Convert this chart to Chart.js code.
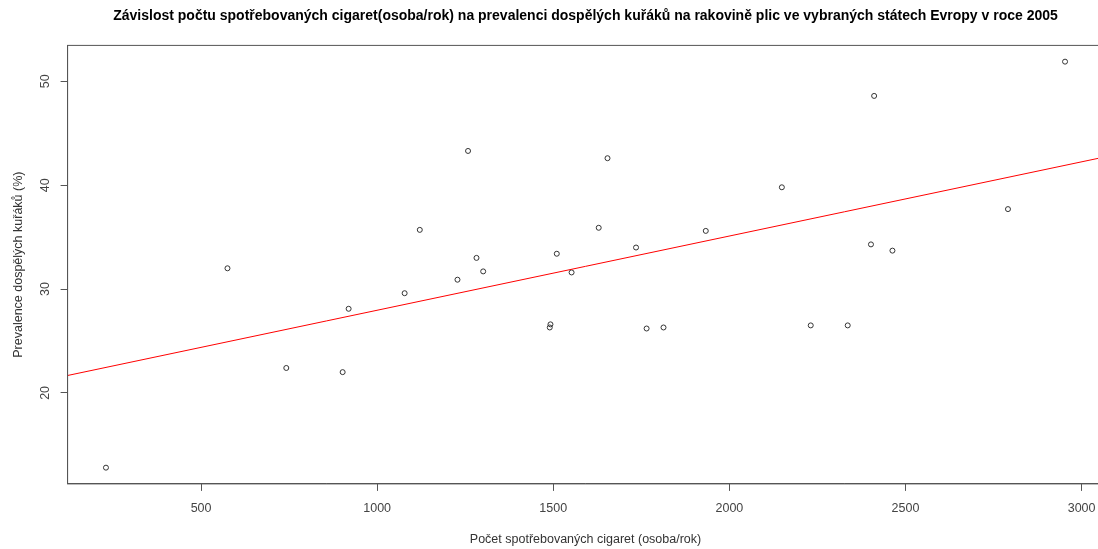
<!DOCTYPE html>
<html>
<head>
<meta charset="utf-8">
<script src="https://cdn.jsdelivr.net/npm/chart.js@4"></script>
<style>
  html, body { margin: 0; padding: 0; background: #fff; overflow: hidden; }
</style>
</head>
<body>
<canvas id="smokeChart" width="1110" height="549"></canvas>
<script>
const chartTitle = 'Závislost počtu spotřebovaných cigaret(osoba/rok) na prevalenci dospělých kuřáků na rakovině plic ve vybraných státech Evropy v roce 2005';
const xTitle = 'Počet spotřebovaných cigaret (osoba/rok)';
const yTitle = 'Prevalence dospělých kuřáků (%)';

const cigarettes = [230, 575, 742, 902, 919, 1078, 1121, 1228, 1258, 1282, 1301, 1492, 1490, 1510, 1552,
                    1629, 1654, 1735, 1765, 1813, 1933, 2149, 2231, 2336, 2402, 2411, 2463, 2791, 2953];
const prevalence = [12.8, 32.0, 22.4, 22.0, 28.1, 29.6, 35.7, 30.9, 43.3, 33.0, 31.7, 26.6, 26.3, 33.4, 31.6,
                    35.9, 42.6, 34.0, 26.2, 26.3, 35.6, 39.8, 26.5, 26.5, 34.3, 48.6, 33.7, 37.7, 51.9];

const xTicks = [500, 1000, 1500, 2000, 2500, 3000];
const yTicks = [20, 30, 40, 50];

const fontFamily = '"Liberation Sans", Arial, sans-serif';

// axis limits like R (range + 4%)
function rLimits(arr) {
    const lo = Math.min(...arr), hi = Math.max(...arr);
    const pad = (hi - lo) * 0.04;
    return [lo - pad, hi + pad];
}
const [xMin, xMax] = rLimits(cigarettes);
const [yMin, yMax] = rLimits(prevalence);

// abline(lm(prevalence ~ cigarettes))
const n = cigarettes.length;
const mx = cigarettes.reduce((a, b) => a + b, 0) / n;
const my = prevalence.reduce((a, b) => a + b, 0) / n;
let sxy = 0, sxx = 0;
for (let i = 0; i < n; i++) {
    sxy += (cigarettes[i] - mx) * (prevalence[i] - my);
    sxx += (cigarettes[i] - mx) ** 2;
}
const slope = sxy / sxx;
const intercept = my - slope * mx;

const points = cigarettes.map((c, i) => ({ x: c, y: prevalence[i] }));
const fitLine = [xMin, xMax].map(x => ({ x: x, y: intercept + slope * x }));

const framePlugin = {
    id: 'frame',
    afterDraw(chart) {
        const { ctx, chartArea: a, scales } = chart;
        ctx.save();
        ctx.strokeStyle = '#555';
        ctx.lineWidth = 1;
        ctx.strokeRect(a.left, a.top, a.right - a.left, a.bottom - a.top);

        // y tick labels drawn parallel to the axis
        ctx.fillStyle = '#444';
        ctx.font = '12.5px ' + fontFamily;
        ctx.textAlign = 'center';
        ctx.textBaseline = 'middle';
        yTicks.forEach(v => {
            const y = scales.y.getPixelForValue(v);
            ctx.save();
            ctx.translate(a.left - 22, y);
            ctx.rotate(-Math.PI / 2);
            ctx.fillText(String(v), 0, 0);
            ctx.restore();
        });

        ctx.fillStyle = '#000';
        ctx.font = 'bold 14px ' + fontFamily;
        ctx.fillText(chartTitle, (a.left + a.right) / 2, 16);
        ctx.restore();
    }
};

const ctx = document.getElementById('smokeChart').getContext('2d');
new Chart(ctx, {
    type: 'scatter',
    data: {
        datasets: [{
            data: points,
            pointStyle: 'circle',
            pointRadius: 2.5,
            pointBorderWidth: 1,
            borderColor: '#333',
            backgroundColor: 'rgba(0,0,0,0)',
            order: 2,
        }, {
            type: 'line',
            data: fitLine,
            borderColor: '#ff0000',
            borderWidth: 1,
            pointRadius: 0,
            fill: false,
            order: 1,
        }],
    },
    options: {
        responsive: false,
        devicePixelRatio: 1,
        animation: false,
        layout: { padding: { top: 45.4, right: 6.6, bottom: 0, left: 0 } },
        plugins: {
            legend: { display: false },
            tooltip: { enabled: false },
        },
        scales: {
            x: {
                type: 'linear',
                min: xMin,
                max: xMax,
                afterBuildTicks: s => { s.ticks = xTicks.map(v => ({ value: v })); },
                afterFit: s => { s.height = 65.1; },
                border: { display: true, color: '#555', width: 1 },
                grid: { drawOnChartArea: false, drawTicks: true, tickLength: 7, color: '#555' },
                ticks: {
                    color: '#444',
                    font: { family: fontFamily, size: 12.5 },
                    padding: 10,
                    maxRotation: 0,
                    autoSkip: false,
                    callback: v => String(v),
                },
                title: {
                    display: true,
                    text: xTitle,
                    color: '#333',
                    font: { family: fontFamily, size: 12.5 },
                    padding: { top: 0, bottom: 2 },
                },
            },
            y: {
                type: 'linear',
                min: yMin,
                max: yMax,
                afterBuildTicks: s => { s.ticks = yTicks.map(v => ({ value: v })); },
                afterFit: s => { s.width = 67.6; },
                border: { display: true, color: '#555', width: 1 },
                grid: { drawOnChartArea: false, drawTicks: true, tickLength: 7, color: '#555' },
                ticks: { display: false },
                title: {
                    display: true,
                    text: yTitle,
                    color: '#333',
                    font: { family: fontFamily, size: 12.5 },
                    padding: { top: 11, bottom: 0 },
                },
            },
        },
    },
    plugins: [framePlugin],
});
</script>
</body>
</html>
